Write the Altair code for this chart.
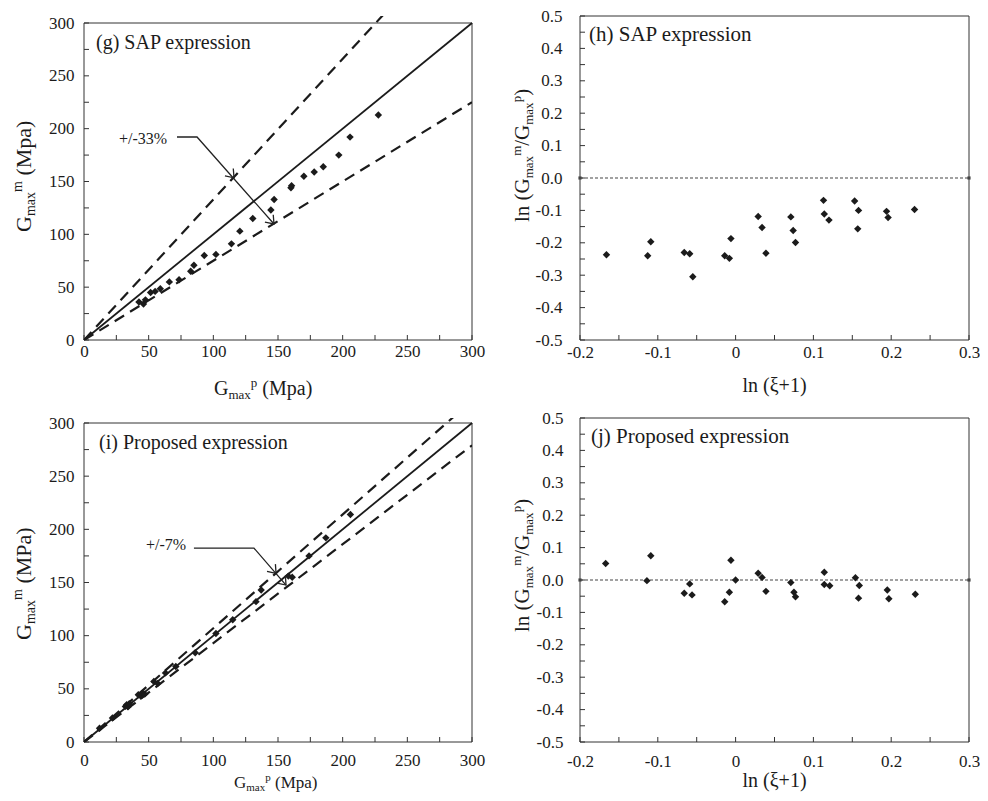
import altair as alt
import pandas as pd

FONT = "Liberation Serif"
INK = "#1b1b1b"
FRAME = "#333333"

# ---------------- data ----------------
# (g) SAP expression: predicted vs measured Gmax (MPa)
g_pred = [42.5, 46, 47.5, 51.5, 55, 59, 66, 73.5, 82.5, 85, 93, 102, 114, 120.5,
          130.5, 144.5, 147, 160, 160.5, 170, 178, 185, 197, 205.7, 227.6]
g_meas = [36, 34, 38, 45, 46, 48.5, 55, 57, 65, 70.7, 80, 81, 91, 103,
          115, 123, 133, 144, 146, 155, 159, 164, 175, 192, 213]

# (i) Proposed expression
i_pred = [12, 22, 32, 33, 34, 35, 42, 44, 45, 47, 54, 57, 63, 71, 86, 102,
          115, 133, 137, 158, 161, 174, 187, 206]
i_meas = [13, 22.5, 33.5, 35, 33, 36, 44.5, 43, 46, 45, 57, 55, 65, 71, 84, 102,
          115, 132, 143, 156, 155, 175, 192, 214]

# (h) SAP expression residuals
h_xi = [-0.166, -0.113, -0.109, -0.066, -0.059, -0.055, -0.014, -0.008, -0.006,
        0.029, 0.034, 0.039, 0.071, 0.074, 0.077, 0.113, 0.114, 0.120,
        0.153, 0.158, 0.157, 0.194, 0.196, 0.230]
h_ln = [-0.237, -0.240, -0.197, -0.230, -0.234, -0.305, -0.240, -0.248, -0.187,
        -0.119, -0.153, -0.232, -0.120, -0.162, -0.199, -0.069, -0.111, -0.130,
        -0.071, -0.100, -0.157, -0.103, -0.122, -0.097]

# (j) Proposed expression residuals
j_xi = [-0.167, -0.109, -0.114, -0.066, -0.059, -0.056, -0.014, -0.008, -0.006,
        0.000, 0.029, 0.034, 0.039, 0.071, 0.075, 0.077, 0.114, 0.114, 0.121,
        0.154, 0.159, 0.158, 0.195, 0.197, 0.231]
j_ln = [0.051, 0.075, -0.002, -0.041, -0.012, -0.046, -0.067, -0.038, 0.061,
        0.000, 0.021, 0.008, -0.035, -0.008, -0.038, -0.052, 0.024, -0.014, -0.018,
        0.007, -0.017, -0.056, -0.031, -0.058, -0.044]

# axes
gmax_labels = [0, 50, 100, 150, 200, 250, 300]
gmax_ticks = [0, 25, 50, 75, 100, 125, 150, 175, 200, 225, 250, 275, 300]
xi_labels = [-0.2, -0.1, 0, 0.1, 0.2, 0.3]
xi_ticks = [-0.2, -0.15, -0.1, -0.05, 0, 0.05, 0.1, 0.15, 0.2, 0.25, 0.3]
ln_labels = [-0.5, -0.4, -0.3, -0.2, -0.1, 0, 0.1, 0.2, 0.3, 0.4, 0.5]
ln_ticks = [-0.5, -0.45, -0.4, -0.35, -0.3, -0.25, -0.2, -0.15, -0.1, -0.05, 0,
            0.05, 0.1, 0.15, 0.2, 0.25, 0.3, 0.35, 0.4, 0.45, 0.5]
gmax_domain = [0, 300]
xi_domain = [-0.2, 0.3]
ln_domain = [-0.5, 0.5]

# reference lines (1:1 and error bands)
ref_x = [0, 300]
ref_y = [0, 300]
g_upper_y = [0, 399]   # +33 %
g_lower_y = [0, 225]   # -33 %
i_upper_y = [0, 321]   # +7 %
i_lower_y = [0, 279]   # -7 %
zero_x = [-0.2, 0.3]
zero_y = [0, 0]

# call-outs
g_call_x = [71.9, 87.4, 146.9]
g_call_y = [192.1, 192.1, 109.8]
g_arrow_x = [116, 146.9]
g_arrow_y = [153.5, 109.8]
i_call_x = [85.0, 131.4, 156.2]
i_call_y = [182.4, 182.4, 147.6]
i_arrow_x = [148.5, 156.2]
i_arrow_y = [158.6, 147.6]

# texts
panel_labels = ["(g) SAP expression", "(h) SAP expression",
                "(i) Proposed expression", "(j) Proposed expression"]
g_note = "+/-33%"
i_note = "+/-7%"
g_ytitle = [("G", "main"), ("max", "sub"), ("m", "sup"), (" (Mpa)", "main")]
g_xtitle = [("G", "main"), ("max", "sub"), ("p", "sup"), (" (Mpa)", "main")]
i_ytitle = [("G", "main"), ("max", "sub"), ("m", "sup"), (" (MPa)", "main")]
i_xtitle = [("G", "main"), ("max", "sub"), ("p", "sup"), (" (Mpa)", "main")]
ln_ytitle = [("ln (G", "main"), ("max", "sub"), ("m", "sup"), ("/G", "main"),
             ("max", "sub"), ("p", "sup"), (")", "main")]
xi_xtitle = "ln (ξ+1)"

# ---------------- layout ----------------
H = 324
WL, WR = 388, 389

WID = {'G': .722, 'm': .778, 'a': .444, 'x': .5, ' ': .25, '(': .333, ')': .333,
       'M': .889, 'P': .556, 'p': .5, 'l': .278, 'n': .5, '/': .278}


def tw(s, fs):
    return sum(WID.get(c, .5) for c in s) * fs


def rich(pieces, x0, y0, F, S, sub, sup, vertical):
    out = []
    pos = 0.0
    for txt, kind in pieces:
        fs = F if kind == "main" else S
        shift = 0 if kind == "main" else (sub if kind == "sub" else sup)
        lead = len(txt) - len(txt.lstrip(" "))
        pos += lead * WID[' '] * fs
        t = txt.strip()
        if vertical:
            x, y, ang = x0 + shift, y0 - pos, 270
        else:
            x, y, ang = x0 + pos, y0 + shift, 0
        out.append(
            alt.Chart(pd.DataFrame({"t": [t]}))
            .mark_text(font=FONT, fontSize=fs, align="left", baseline="alphabetic",
                       angle=ang, color=INK)
            .encode(x=alt.value(x), y=alt.value(y), text="t:N")
        )
        pos += tw(t, fs)
    return out


def plain_text(txt, x, y, fs, align="left"):
    return (alt.Chart(pd.DataFrame({"t": [txt]}))
            .mark_text(font=FONT, fontSize=fs, align=align, baseline="alphabetic", color=INK)
            .encode(x=alt.value(x), y=alt.value(y), text="t:N"))


def make_axis(values, pad, expr=None):
    kw = dict(values=values, title="", grid=False, domain=False, ticks=False,
              labelFont=FONT, labelFontSize=17, labelColor=INK, labelPadding=pad,
              labelFlush=False, labelOverlap=False)
    if expr:
        kw["labelExpr"] = expr
    return alt.Axis(**kw)


def base_layers(xdom, ydom, xs, ys, xax, yax, xticks, yticks):
    X = lambda f: alt.X(f, type="quantitative", scale=xs, axis=xax)
    Y = lambda f: alt.Y(f, type="quantitative", scale=ys, axis=yax)
    frame = alt.Chart(pd.DataFrame({"x0": [xdom[0]], "x1": [xdom[1]],
                                    "y0": [ydom[0]], "y1": [ydom[1]]})).mark_rect(
        fillOpacity=0, stroke=FRAME, strokeWidth=1).encode(
        x=X("x0"), x2="x1", y=Y("y0"), y2="y1")
    xt = alt.Chart(pd.DataFrame({"v": xticks})).mark_rule(color=FRAME, strokeWidth=1).encode(
        x=X("v"), y=alt.value(H), y2=alt.value(H - 5))
    yt = alt.Chart(pd.DataFrame({"v": yticks})).mark_rule(color=FRAME, strokeWidth=1).encode(
        y=Y("v"), x=alt.value(0), x2=alt.value(5))
    return X, Y, [frame, xt, yt]


def gmax_panel(pred, meas, up, lo, cx, cy, ax, ay, ang, note, note_xy, label, label_xy,
               top, xpad, ypad, ytitle, xtitle):
    xs = alt.Scale(domain=gmax_domain, nice=False, zero=False)
    ys = alt.Scale(domain=gmax_domain, nice=False, zero=False, range=[H, top])
    X, Y, layers = base_layers(gmax_domain, gmax_domain, xs, ys,
                               make_axis(gmax_labels, xpad), make_axis(gmax_labels, ypad),
                               gmax_ticks, gmax_ticks)
    one = alt.Chart(pd.DataFrame({"x": ref_x, "y": ref_y})).mark_line(
        color=INK, strokeWidth=1.8).encode(x=X("x"), y=Y("y"))
    upper = alt.Chart(pd.DataFrame({"x": ref_x, "y": up})).mark_line(
        color=INK, strokeWidth=2.2, strokeDash=[11, 7], clip=True).encode(x=X("x"), y=Y("y"))
    lower = alt.Chart(pd.DataFrame({"x": ref_x, "y": lo})).mark_line(
        color=INK, strokeWidth=2.2, strokeDash=[11, 7], clip=True).encode(x=X("x"), y=Y("y"))
    pts = alt.Chart(pd.DataFrame({"x": pred, "y": meas})).mark_point(
        shape="diamond", filled=True, size=55, color=INK, opacity=1).encode(x=X("x"), y=Y("y"))
    call = alt.Chart(pd.DataFrame({"x": cx, "y": cy, "o": list(range(len(cx)))})).mark_line(
        color="#222222", strokeWidth=1.3).encode(x=X("x"), y=Y("y"), order="o:Q")
    heads = alt.Chart(pd.DataFrame({"x": ax, "y": ay})).mark_point(
        shape="M -1 -0.75 L 0 0 L -1 0.75", filled=False, size=220, angle=ang,
        color="#222222", strokeWidth=1.3, opacity=1).encode(x=X("x"), y=Y("y"))
    layers += [one, upper, lower, pts, call, heads,
               plain_text(note, note_xy[0], note_xy[1], 16),
               plain_text(label, label_xy[0], label_xy[1], 20)]
    layers += ytitle + xtitle
    return alt.layer(*layers).properties(width=WL, height=H)


def ratio_panel(xi, ln, label, label_xy, xpad, ypad, ytitle, xtitle_y):
    xs = alt.Scale(domain=xi_domain, nice=False, zero=False)
    ys = alt.Scale(domain=ln_domain, nice=False, zero=False)
    xexpr = ("abs(datum.value) < 1e-9 ? '0' : (datum.value < 0 ? '-' + format(-datum.value, '.1f')"
             " : format(datum.value, '.1f'))")
    yexpr = ("abs(datum.value) < 1e-9 ? '0.0' : (datum.value < 0 ? '-' + format(-datum.value, '.1f')"
             " : format(datum.value, '.1f'))")
    X, Y, layers = base_layers(xi_domain, ln_domain, xs, ys,
                               make_axis(xi_labels, xpad, xexpr), make_axis(ln_labels, ypad, yexpr),
                               xi_ticks, ln_ticks)
    zdf = pd.DataFrame({"x": zero_x, "y": zero_y})
    zero = alt.Chart(zdf).mark_line(color="#444444", strokeWidth=1.2, strokeDash=[3, 2]).encode(
        x=X("x"), y=Y("y"))
    zends = alt.Chart(zdf).mark_point(shape="square", filled=True, size=10, color="#444444",
                                      opacity=1).encode(x=X("x"), y=Y("y"))
    pts = alt.Chart(pd.DataFrame({"x": xi, "y": ln})).mark_point(
        shape="diamond", filled=True, size=55, color=INK, opacity=1).encode(x=X("x"), y=Y("y"))
    layers += [zero, zends, pts,
               plain_text(label, label_xy[0], label_xy[1], 21),
               plain_text(xi_xtitle, WR / 2, xtitle_y, 20, align="center")]
    layers += ytitle
    return alt.layer(*layers).properties(width=WR, height=H)


g = gmax_panel(g_pred, g_meas, g_upper_y, g_lower_y, g_call_x, g_call_y, g_arrow_x, g_arrow_y,
               48.5, g_note, (35, 128), panel_labels[0], (12, 33), 7, 3, 10,
               rich(g_ytitle, -53, 216, 22, 14, 4, -9, True),
               rich(g_xtitle, 130, 379, 20, 13, 4, -8, False))
h = ratio_panel(h_xi, h_ln, panel_labels[1], (9, 25), 4, 18,
                rich(ln_ytitle, -51, 206, 21, 13, 4, -8, True), 376)
i = gmax_panel(i_pred, i_meas, i_upper_y, i_lower_y, i_call_x, i_call_y, i_arrow_x, i_arrow_y,
               49.1, i_note, (62, 132), panel_labels[2], (15, 31), 5, 10, 10,
               rich(i_ytitle, -53, 222, 22, 14, 4, -9, True),
               rich(i_xtitle, 150, 370, 17, 11, 3, -7, False))
j = ratio_panel(j_xi, j_ln, panel_labels[3], (11, 25), 11, 17,
                rich(ln_ytitle, -51, 214, 21, 13, 4, -8, True), 369)

chart = alt.concat(g, h, i, j, columns=2, spacing={"row": 78, "column": 108},
                   bounds="flush").properties(
    padding={"left": 2, "top": -2, "right": -1, "bottom": 0}
).configure_view(stroke="transparent").configure_axis(
    labelFont=FONT, labelFontSize=17, labelColor=INK
)

chart.save("out.html", embed_options={"renderer": "svg", "actions": False})
